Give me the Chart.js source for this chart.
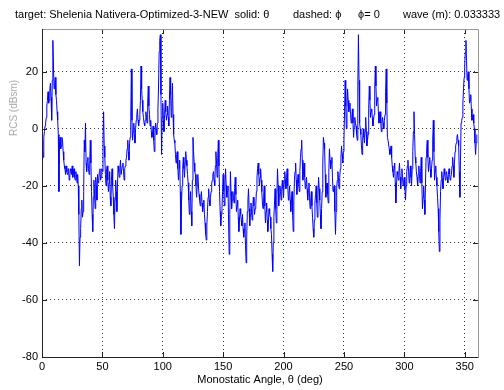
<!DOCTYPE html>
<html>
<head>
<meta charset="utf-8">
<script src="https://cdn.jsdelivr.net/npm/chart.js@4"></script>
<style>
  html, body { margin: 0; padding: 0; background: #fff; }
</style>
</head>
<body>
<canvas id="graficoRcs" width="504" height="390"></canvas>
<script>
// Monostatic angle (deg): samples every half degree
const anguloInicio = 0;
const anguloPasso = 1;

// RCS (dBsm) at whole degrees, 0..360
const rcs = [
  -4, -10, -1, 2, 8, 13, 10, 16, 3, 31,
  14, 18, 10, 3, -22, -3, -6, -4, -11, -14,
  -13, -16, -14, -17, -15, -13, -16, -17, -15, -19,
  -20, -48, -35, -25, -29, -4, 2, -15, -10, -16,
  -4, -22, -36, -18, -28, -20, -16, -18, -14, -17,
  -15, 6, -10, -20, -13, -22, -15, -27, -14, -24,
  -35, -18, -29, -13, -17, -11, -16, -12, -18, -13,
  -10, -4, -11, -3, 21, -4, 2, -5, 3, 7,
  1, 5, 22, 10, 4, 1, 6, 2, 15, 5,
  3, -3, 1, -8, 2, -2, 7, 27, 33, -9,
  9, -1, 10, 3, 8, 1, 18, 4, 16, -2,
  -5, -12, -8, -18, -11, -37, -20, -10, -17, -8,
  -13, -19, -30, -22, -34, -3, -12, -16, -24, -16,
  -23, -27, -22, -29, -25, -33, -39, -29, -21, -27,
  -22, -18, -15, -20, -8, -17, -4, -22, -34, -28,
  -16, -27, -14, -24, -20, -44, -15, -28, -22, -26,
  -17, -29, -25, -36, -28, -32, -30, -38, -33, -47,
  -29, -21, -34, -26, -32, -24, -30, -27, -17, -12,
  -20, -14, -22, -28, -20, -33, -26, -36, -28, -31,
  -37, -50, -31, -21, -33, -14, -27, -20, -25, -18,
  -24, -15, -21, -14, -25, -20, -29, -22, -36, -18,
  -12, -23, -16, -22, -10, -4, -18, -12, -21, -17,
  -25, -19, -28, -22, -31, -38, -26, -20, -31, -17,
  -25, -35, -22, -3, -7, -24, -19, -26, -7, -14,
  -10, -22, -20, -37, -21, -15, -21, -14, -6, -12,
  -4, 17, 0, 14, 6, 9, 2, 7, -3, 4,
  1, -4, 33, 2, -2, -9, 0, -5, 4, -6,
  -2, 15, 4, 7, 1, 5, 22, 8, 11, 2,
  6, -1, 4, 0, 5, 21, -3, -4, -9, -6,
  -13, -17, -12, -26, -15, -18, -12, -21, -14, -20,
  -17, -25, -15, -11, -19, -13, -20, -8, 6, -10,
  -15, -20, -13, -19, -10, -28, -20, -30, -10, -4,
  -15, -10, -17, -11, 3, -18, -13, -20, -28, -43,
  -22, -15, -21, -14, -18, -15, -19, -14, -18, -16,
  -10, -17, -8, -5, -2, -6, -24, 2, 4, 14,
  22, 31, 17, 20, 9, 12, 3, 5, 0, -9,
  -2
];

// RCS (dBsm) at the half degrees, 0.5..359.5
const rcsMeio = [
  -7, -3, 1, 4, 10, 9, 14, 11, 17, 22,
  16, 12, 6, -2, -5, -7, -3, -8, -13, -16,
  -15, -14, -18, -14, -16, -17, -14, -18, -16, -16,
  -30, -38, -28, -31, -22, -8, -12, -11, -14, -12,
  -12, -30, -24, -23, -17, -25, -19, -15, -18, -14,
  -4, -6, -16, -14, -18, -19, -24, -18, -20, -30,
  -25, -22, -20, -15, -14, -16, -13, -15, -14, -11,
  -7, -8, -5, 4, 3, -1, -2, 0, 5, 3,
  3, 10, 14, 6, 2, 3, 4, 9, 8, 1,
  -1, -2, -4, -3, 0, 2, 15, 31, 12, 4,
  3, 5, 6, 5, 4, 10, 12, 9, 5, -4,
  -9, -9, -14, -14, -22, -26, -14, -14, -12, -11,
  -16, -25, -26, -29, -18, -8, -15, -20, -20, -20,
  -25, -24, -26, -27, -30, -37, -34, -24, -25, -24,
  -19, -16, -18, -13, -12, -10, -13, -29, -30, -22,
  -22, -19, -20, -22, -33, -30, -22, -25, -24, -21,
  -23, -27, -31, -32, -30, -34, -35, -36, -41, -38,
  -25, -28, -30, -29, -28, -27, -28, -22, -14, -16,
  -17, -18, -26, -24, -27, -29, -32, -32, -30, -35,
  -44, -40, -26, -28, -23, -20, -23, -22, -21, -21,
  -19, -18, -17, -20, -23, -25, -25, -30, -26, -15,
  -18, -19, -19, -15, -7, -11, -15, -17, -19, -21,
  -22, -24, -25, -27, -35, -32, -23, -26, -24, -21,
  -30, -28, -12, -5, -16, -21, -23, -15, -11, -12,
  -17, -21, -29, -29, -18, -18, -17, -10, -9, -8,
  6, 8, 7, 10, 8, 5, 4, 2, 1, 2,
  -2, 15, 17, 0, -6, -4, -3, -1, -1, -4,
  7, 10, 6, 4, 3, 14, 15, 10, 6, 4,
  2, 2, 2, 3, 13, 9, -4, -7, -8, -10,
  -15, -14, -19, -20, -16, -15, -17, -17, -17, -18,
  -21, -20, -13, -15, -16, -17, -14, -1, -2, -12,
  -17, -16, -16, -15, -19, -24, -25, -20, -7, -10,
  -12, -14, -14, -4, -8, -15, -17, -24, -36, -32,
  -18, -18, -17, -16, -16, -17, -16, -16, -17, -13,
  -13, -12, -6, -3, -4, -15, -11, 3, 9, 18,
  27, 24, 19, 14, 10, 7, 4, 2, -5, -5
];

const ticksX = [0, 50, 100, 150, 200, 250, 300, 350];
const ticksY = [-80, -60, -40, -20, 0, 20];

const textoTitulo = [
  { texto: 'target: Shelenia Nativera-Optimized-3-NEW  solid: \u03b8', x: 15 },
  { texto: 'dashed: \u03d5', x: 293 },
  { texto: '\u03d5= 0', x: 358 },
  { texto: 'wave (m): 0.033333', x: 403 }
];
const rotuloX = 'Monostatic Angle, \u03b8 (deg)';
const rotuloY = 'RCS (dBsm)';

const pontos = [];
rcs.forEach((v, i) => {
  const ang = anguloInicio + i * anguloPasso;
  pontos.push({ x: ang, y: v });
  if (i < rcsMeio.length) pontos.push({ x: ang + anguloPasso / 2, y: rcsMeio[i] });
});

const fonte = '"Liberation Sans", Arial, sans-serif';

const molduraMatlab = {
  id: 'molduraMatlab',
  afterDraw(chart) {
    const { ctx, chartArea: a, scales } = chart;
    ctx.save();
    // inner tick marks
    ctx.strokeStyle = '#222';
    ctx.lineWidth = 1;
    ctx.beginPath();
    ticksX.forEach(t => {
      const px = Math.round(scales.x.getPixelForValue(t)) + 0.5;
      ctx.moveTo(px, a.bottom); ctx.lineTo(px, a.bottom - 5);
      ctx.moveTo(px, a.top); ctx.lineTo(px, a.top + 5);
    });
    ticksY.forEach(t => {
      const py = Math.round(scales.y.getPixelForValue(t)) + 0.5;
      ctx.moveTo(a.left, py); ctx.lineTo(a.left + 5, py);
      ctx.moveTo(a.right, py); ctx.lineTo(a.right - 5, py);
    });
    ctx.stroke();
    // box
    ctx.strokeStyle = '#999';
    ctx.beginPath();
    ctx.moveTo(a.left, a.top + 0.5); ctx.lineTo(a.right + 0.5, a.top + 0.5);
    ctx.lineTo(a.right + 0.5, a.bottom);
    ctx.stroke();
    ctx.strokeStyle = '#222';
    ctx.beginPath();
    ctx.moveTo(a.left + 0.5, a.top); ctx.lineTo(a.left + 0.5, a.bottom + 0.5);
    ctx.lineTo(a.right + 0.5, a.bottom + 0.5);
    ctx.stroke();
    // title pieces
    ctx.fillStyle = '#000';
    ctx.font = '11px ' + fonte;
    ctx.textBaseline = 'middle';
    ctx.textAlign = 'left';
    textoTitulo.forEach(p => ctx.fillText(p.texto, p.x, 15));
    // y label
    ctx.translate(14, 108);
    ctx.rotate(-Math.PI / 2);
    ctx.textAlign = 'center';
    ctx.fillStyle = '#aaa';
    ctx.font = '10px ' + fonte;
    ctx.fillText(rotuloY, 0, 0);
    ctx.restore();
  }
};

new Chart(document.getElementById('graficoRcs'), {
  type: 'line',
  data: {
    datasets: [{
      data: pontos,
      borderColor: '#0000ff',
      borderWidth: 1,
      pointRadius: 0,
      tension: 0,
      fill: false
    }]
  },
  options: {
    responsive: false,
    animation: false,
    layout: { padding: { top: 29, right: 26, left: 0, bottom: 0 } },
    plugins: { legend: { display: false }, tooltip: { enabled: false } },
    scales: {
      x: {
        type: 'linear',
        min: 0,
        max: 361,
        afterBuildTicks: s => { s.ticks = ticksX.map(v => ({ value: v })); },
        afterFit: s => { s.height = 33; },
        border: { display: false, dash: [1, 3] },
        grid: { color: 'rgba(0,0,0,0.8)', drawTicks: false, lineWidth: 1 },
        ticks: { color: '#000', font: { size: 11, family: fonte }, padding: 3, maxRotation: 0 },
        title: { display: true, text: rotuloX, color: '#000', font: { size: 11, family: fonte }, padding: { top: 0, bottom: 3 } }
      },
      y: {
        min: -80,
        max: 35,
        afterBuildTicks: s => { s.ticks = ticksY.map(v => ({ value: v })); },
        afterFit: s => { s.width = 42; },
        border: { display: false, dash: [1, 3] },
        grid: { color: 'rgba(0,0,0,0.8)', drawTicks: false, lineWidth: 1 },
        ticks: { color: '#000', font: { size: 11, family: fonte }, padding: 4 }
      }
    }
  },
  plugins: [molduraMatlab]
});
</script>
</body>
</html>
